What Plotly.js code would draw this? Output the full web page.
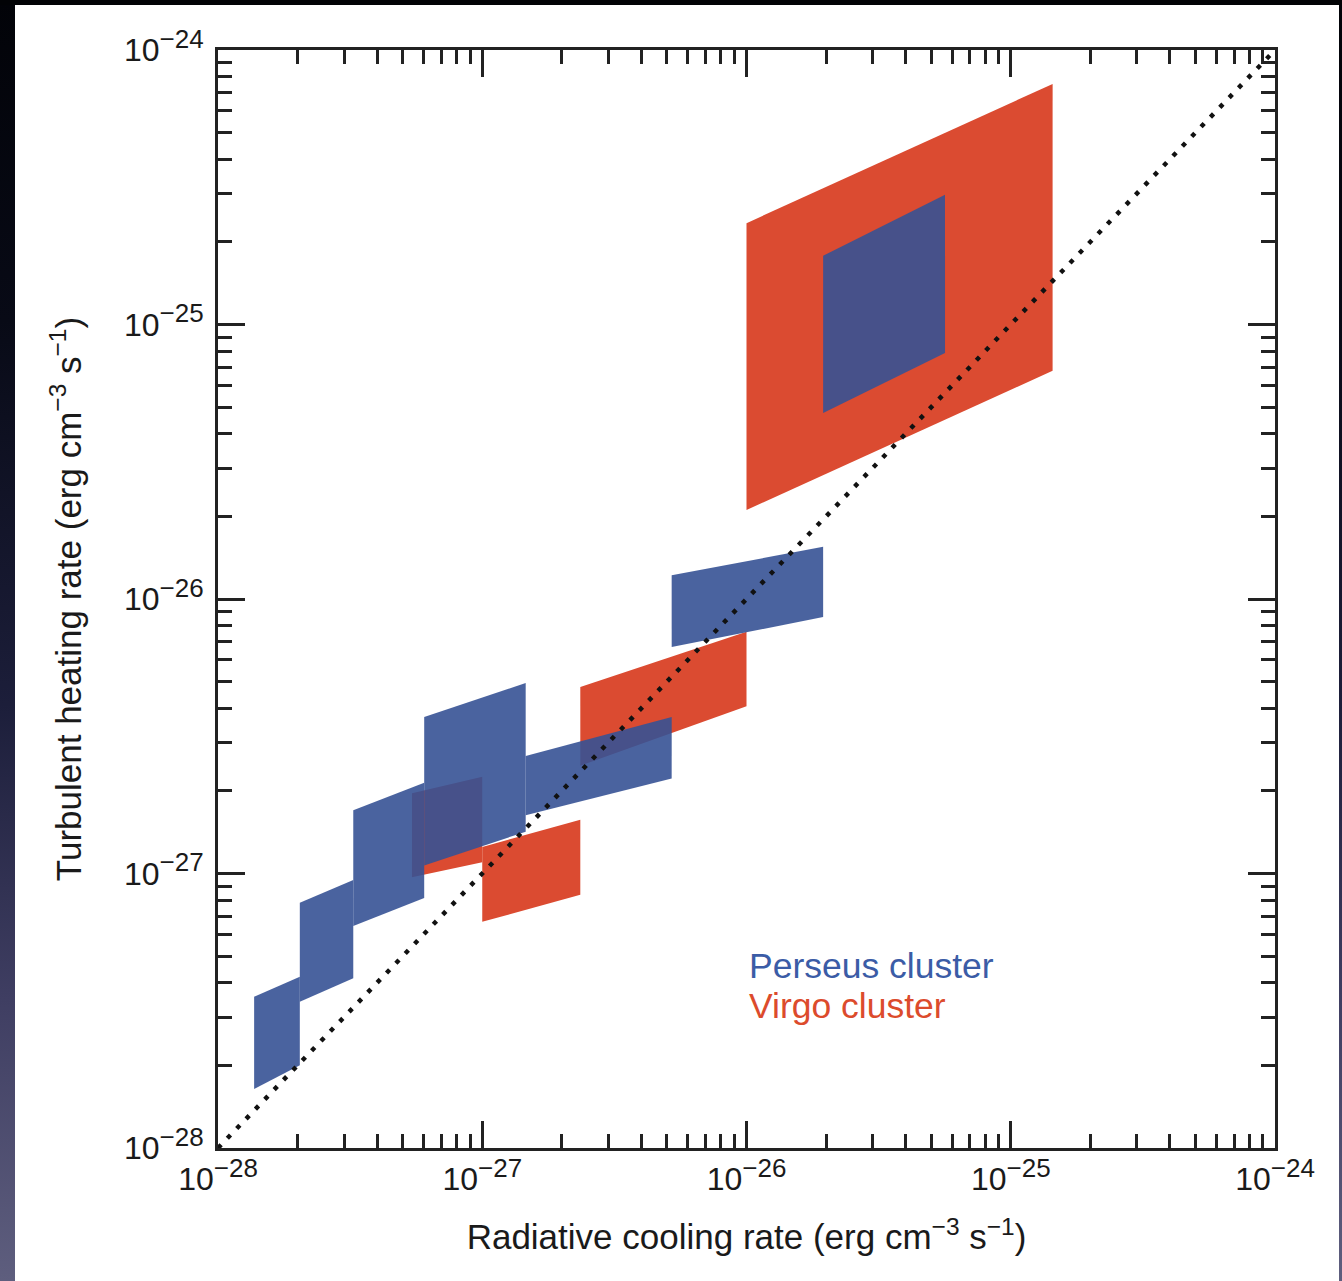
<!DOCTYPE html>
<html>
<head>
<meta charset="utf-8">
<script src="https://cdn.plot.ly/plotly-3.0.1.min.js"></script>
<style>
  html, body { margin: 0; padding: 0; }
  body {
    width: 1342px; height: 1281px; overflow: hidden; position: relative;
    background: linear-gradient(to bottom, #020308 0%, #080a16 25%, #1c1e3a 55%, #3f3e62 78%, #5e5e7e 100%);
  }
  #panel {
    position: absolute; left: 15px; top: 5px; width: 1324px; height: 1276px; background: #ffffff;
  }
  #topband { position: absolute; left: 0; top: 0; width: 1342px; height: 5px; background: #020306; }
</style>
</head>
<body>
<div id="topband"></div>
<div id="panel"><div id="chart"></div></div>
<script>
// Radiative cooling rate bins (erg cm^-3 s^-1): lower and upper edge of each bin
const perseusCoolLo = [1.37e-28, 2.04e-28, 3.25e-28, 6.03e-28, 1.46e-27, 5.21e-27, 1.95e-26];
const perseusCoolHi = [2.04e-28, 3.25e-28, 6.03e-28, 1.46e-27, 5.21e-27, 1.95e-26, 5.64e-26];
// Turbulent heating rate bounds at the low / high cooling edge of each bin
const perseusHeatMaxAtLo = [3.56e-28, 7.83e-28, 1.70e-27, 3.72e-27, 2.68e-27, 1.22e-26, 1.78e-25];
const perseusHeatMaxAtHi = [4.21e-28, 9.46e-28, 2.14e-27, 4.94e-27, 3.72e-27, 1.55e-26, 2.97e-25];
const perseusHeatMinAtLo = [1.64e-28, 3.41e-28, 6.44e-28, 1.07e-27, 1.63e-27, 6.68e-27, 4.76e-26];
const perseusHeatMinAtHi = [2.00e-28, 4.15e-28, 8.15e-28, 1.42e-27, 2.22e-27, 8.59e-27, 7.87e-26];

const virgoCoolLo = [5.42e-28, 1.00e-27, 2.35e-27, 1.00e-26];
const virgoCoolHi = [1.00e-27, 2.35e-27, 1.00e-26, 1.44e-25];
const virgoHeatMaxAtLo = [1.96e-27, 1.25e-27, 4.78e-27, 2.34e-25];
const virgoHeatMaxAtHi = [2.25e-27, 1.57e-27, 7.59e-27, 7.52e-25];
const virgoHeatMinAtLo = [9.70e-28, 6.67e-28, 2.47e-27, 2.11e-26];
const virgoHeatMinAtHi = [1.10e-27, 8.36e-28, 4.07e-27, 6.78e-26];

// Equality line: heating = cooling
const equalityLine = [1e-28, 1e-24];

// Decade ticks shared by both axes
const tickExponents = [-28, -27, -26, -25, -24];
const tickValues = tickExponents.map(e => Math.pow(10, e));
const tickLabels = tickExponents.map(e =>
  '10<sup><span style="font-size:26px">\u2212' + Math.abs(e) + '</span></sup>');

const clusterLabels = ['Perseus cluster', 'Virgo cluster'];
const PERSEUS_FILL = 'rgba(54,82,149,0.9)';
const VIRGO_FILL = '#db4b31';

function regionTraces(lo, hi, maxLo, maxHi, minLo, minHi, fill, name) {
  return lo.map((x0, i) => ({
    type: 'scatter', mode: 'lines', name: name,
    x: [x0, hi[i], hi[i], x0, x0],
    y: [maxLo[i], maxHi[i], minHi[i], minLo[i], maxLo[i]],
    fill: 'toself', fillcolor: fill,
    line: { width: 0, color: fill },
    hoverinfo: 'skip', showlegend: false
  }));
}

const traces = [
  ...regionTraces(virgoCoolLo, virgoCoolHi, virgoHeatMaxAtLo, virgoHeatMaxAtHi,
                  virgoHeatMinAtLo, virgoHeatMinAtHi, VIRGO_FILL, clusterLabels[1]),
  ...regionTraces(perseusCoolLo, perseusCoolHi, perseusHeatMaxAtLo, perseusHeatMaxAtHi,
                  perseusHeatMinAtLo, perseusHeatMinAtHi, PERSEUS_FILL, clusterLabels[0]),
  {
    type: 'scatter', mode: 'lines', x: equalityLine, y: equalityLine,
    line: { color: '#111111', width: 4.5, dash: '4.5px,9px' },
    hoverinfo: 'skip', showlegend: false
  }
];

const axisCommon = {
  type: 'log', range: [-28, -24],
  tickmode: 'array', tickvals: tickValues, ticktext: tickLabels,
  ticks: 'inside', ticklen: 27, tickwidth: 3, tickcolor: '#222222',
  showline: true, linewidth: 3, linecolor: '#222222', mirror: 'allticks',
  showgrid: false, zeroline: false,
  tickfont: { size: 32, color: '#1a1a1a' },
  minor: { ticks: 'inside', ticklen: 14, tickwidth: 3, tickcolor: '#222222', showgrid: false, dtick: 'D1' }
};

const layout = {
  width: 1324, height: 1276,
  margin: { l: 203, r: 64, t: 45, b: 133 },
  paper_bgcolor: '#ffffff', plot_bgcolor: '#ffffff',
  font: { family: '"Liberation Sans", Arial, Helvetica, sans-serif', color: '#1a1a1a' },
  showlegend: false,
  xaxis: Object.assign({}, axisCommon, {
    ticklabelstandoff: 1,
    title: { text: 'Radiative cooling rate (erg cm<sup>\u22123</sup> s<sup>\u22121</sup>)',
             font: { size: 35, color: '#1a1a1a' }, standoff: 29 }
  }),
  yaxis: Object.assign({}, axisCommon, {
    ticklabelstandoff: 5,
    title: { text: 'Turbulent heating rate (erg cm<sup>\u22123</sup> s<sup>\u22121</sup>)',
             font: { size: 35, color: '#1a1a1a' }, standoff: 32 }
  }),
  annotations: [
    { xref: 'paper', yref: 'paper', x: 0.5, y: 0.166, xanchor: 'left', yanchor: 'middle',
      text: clusterLabels[0], showarrow: false, font: { size: 35.5, color: '#3b5ca6' } },
    { xref: 'paper', yref: 'paper', x: 0.5, y: 0.129, xanchor: 'left', yanchor: 'middle',
      text: clusterLabels[1], showarrow: false, font: { size: 35.5, color: '#dc4b2c' } }
  ]
};

Plotly.newPlot('chart', traces, layout, { displayModeBar: false, staticPlot: true });
</script>
</body>
</html>
